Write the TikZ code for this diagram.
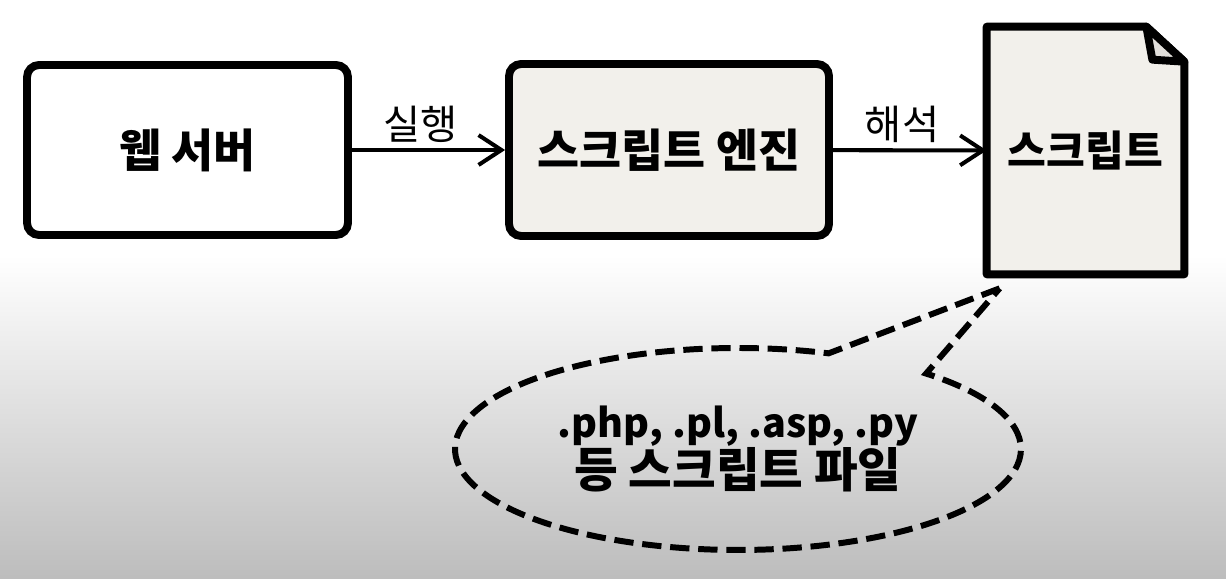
\documentclass[tikz,border=0pt]{standalone}
\usepackage{fontspec}
\setmainfont{Noto Sans CJK KR}
\usepackage{tikz}
\usetikzlibrary{positioning,shapes.callouts,arrows.meta,calc}
\definecolor{boxfill}{RGB}{242,240,235}

\begin{document}
\begin{tikzpicture}[x=0.02cm, y=-0.02cm,
  box/.style={draw, line width=4.5pt, rounded corners=0.24cm, minimum width=6.42cm, minimum height=3.4cm, font=\bfseries\fontsize{26}{30}\selectfont},
  flow/.style={line width=2.3pt, -{Straight Barb[length=13pt, width=17pt]}},
  flowlabel/.style={font=\fontsize{23}{26}\selectfont, above=0pt, pos=0.45}]
% background
\fill[white] (0,0) rectangle (1226,578);
\shade[top color=white, bottom color=black!26] (0,255) rectangle (1226,578);
\useasboundingbox (0,0) rectangle (1226,578);

\node[box, fill=white] (web) at (187.5,150) {웹 서버};
\node[box, fill=boxfill, minimum width=6.4cm, minimum height=3.44cm] (engine) at (669,150) {스크립트 엔진};

% script file with folded corner
\node[minimum width=3.94cm, minimum height=4.94cm] (doc) at (1085.5,150.5) {};
\filldraw[fill=boxfill, line width=4.5pt, line join=round] (doc.south west) -- (doc.north west) -- ($(doc.north east)+(-38,0)$) -- ($(doc.north east)+(0,35)$) -- (doc.south east) -- cycle;
\filldraw[fill=boxfill!85!gray, line width=4.5pt, line join=round] ($(doc.north east)+(-38,0)$) -- ($(doc.north east)+(-32,33)$) -- ($(doc.north east)+(0,35)$) -- cycle;
\node[font=\bfseries\fontsize{24}{28}\selectfont] (doctext) at (doc.center) {스크립트};

\draw[flow] (web) -- (engine) node[flowlabel] {실행};
\draw[flow] (engine) -- (doc) node[flowlabel] {해석};

\node[ellipse callout, draw, line width=3.4pt, dash pattern=on 11pt off 5pt, minimum width=11.32cm, minimum height=4.04cm, inner sep=0pt,
  callout absolute pointer={($(doc.south west)+(13,14)$)}, callout pointer arc=23,
  align=center, font=\bfseries\fontsize{27}{25}\selectfont] (files) at (738,449) {{\fontsize{22.5}{25}\selectfont .php, .pl, .asp, .py}\\등 스크립트 파일};
\end{tikzpicture}
\end{document}
